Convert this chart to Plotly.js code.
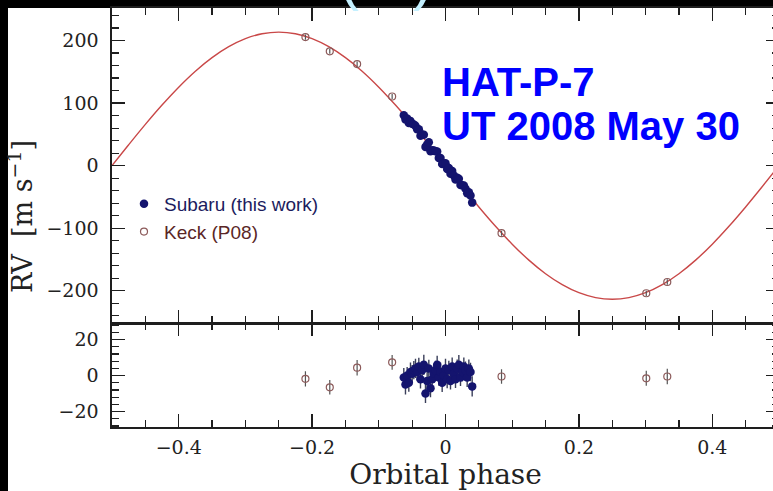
<!DOCTYPE html>
<html><head><meta charset="utf-8">
<script src="https://cdn.plot.ly/plotly-3.0.1.min.js"></script>
<style>
html,body{margin:0;padding:0;background:#000;overflow:hidden;width:773px;height:491px}
#plot{width:781px;height:491px}
</style>
</head><body><div id="plot"></div>
<script>
// Model RV curve
const modelPhase = [-0.5,-0.475,-0.45,-0.425,-0.4,-0.375,-0.35,-0.325,-0.3,-0.275,-0.25,-0.225,-0.2,-0.175,-0.15,-0.125,-0.1,-0.075,-0.05,-0.025,0,0.025,0.05,0.075,0.1,0.125,0.15,0.175,0.2,0.225,0.25,0.275,0.3,0.325,0.35,0.375,0.4,0.425,0.45,0.475,0.5];
const modelRV = [0,33.4,66.0,96.9,125.5,151.0,172.7,190.2,203.1,210.9,213.5,210.9,203.1,190.2,172.7,151.0,125.5,96.9,66.0,33.4,0,-33.4,-66.0,-96.9,-125.5,-151.0,-172.7,-190.2,-203.1,-210.9,-213.5,-210.9,-203.1,-190.2,-172.7,-151.0,-125.5,-96.9,-66.0,-33.4,0];

// Keck (P08)
const keckPhase = [-0.210,-0.1735,-0.1325,-0.080,0.084,0.301,0.3325];
const keckRV = [205.6,182.8,162.3,110.5,-108.0,-204.0,-186.0];
const keckResid = [-1.8,-6.5,4.4,7.4,-0.5,-1.5,-0.5];
const keckErr = [4.2,4.0,4.3,4.1,4.0,4.2,4.3];

// Subaru (this work)
const subaruPhase = [-0.0625,-0.0600,-0.0575,-0.0550,-0.0525,-0.0500,-0.0475,-0.0450,-0.0425,-0.0400,-0.0375,-0.0350,-0.0325,-0.0300,-0.0275,-0.0250,-0.0225,-0.0200,-0.0175,-0.0150,-0.0125,-0.0100,-0.0075,-0.0050,-0.0025,0.0000,0.0025,0.0050,0.0075,0.0100,0.0125,0.0150,0.0175,0.0200,0.0225,0.0250,0.0275,0.0300,0.0325,0.0350,0.0375,0.0400];
const subaruRV = [80.7,73.6,75.5,68.3,71.2,67.0,65.8,63.6,58.3,58.1,47.8,49.6,49.3,30.0,33.7,37.4,23.1,24.8,24.4,23.1,22.8,12.4,12.1,2.7,3.4,4.0,-5.4,-3.7,-13.1,-8.4,-15.8,-22.1,-19.4,-20.8,-31.1,-31.4,-31.7,-37.0,-44.3,-42.6,-47.8,-59.1];
const subaruResid = [-1,-5,0,-4,2,1,3,4,2,5,-2,3,6,-10,-3,4,-7,-2,1,3,6,-1,2,-4,0,4,-2,3,-3,5,1,-2,4,6,-1,2,5,3,-1,4,2,-6];
const subaruErr = [5.2,5.5,4.8,5.0,5.3,4.9,5.1,5.4,4.7,5.0,5.2,4.9,5.6,5.3,5.0,4.8,5.1,5.5,4.9,5.2,5.0,4.7,5.3,5.1,4.9,5.4,5.0,5.2,4.8,5.1,5.3,4.9,5.0,5.5,4.8,5.2,5.1,4.9,5.3,5.0,5.2,5.6];

const xTitle = 'Orbital phase';
const yTitle = 'RV  [m s<sup>\u22121</sup>]';
const labelSubaru = 'Subaru (this work)';
const labelKeck = 'Keck (P08)';
const starLine1 = 'HAT-P-7';
const starLine2 = 'UT 2008 May 30';

// pixel -> paper helpers (W=781, l=112, r=2, t=8, b=64, H=491)
const L = 112, PW = 667, T = 8, PH = 419;
const px = v => (v - L) / PW;
const py = v => (T + PH - v) / PH;

const navy = '#14146e', brown = '#8c5a5a', red = '#c94848', ink = '#1e1e1e';
const tickFont = {family: 'DejaVu Serif', size: 19, color: '#222'};

const traces = [
  {x: modelPhase, y: modelRV, xaxis: 'x2', yaxis: 'y', mode: 'lines',
   line: {color: red, width: 1.4, shape: 'spline'}, showlegend: false, hoverinfo: 'skip'},
  {x: subaruPhase, y: subaruRV, xaxis: 'x2', yaxis: 'y', mode: 'markers',
   name: '<span style="color:#1c1c5e">' + labelSubaru + '</span>',
   marker: {size: 8.5, color: navy},
   error_y: {type: 'data', array: subaruErr, width: 0, thickness: 1.4, color: '#3a3f5a'}},
  {x: keckPhase, y: keckRV, xaxis: 'x2', yaxis: 'y', mode: 'markers',
   name: '<span style="color:#5a2626">' + labelKeck + '</span>',
   marker: {size: 7, symbol: 'circle-open', color: brown, line: {width: 1.2, color: brown}},
   error_y: {type: 'data', array: keckErr, width: 0, thickness: 1.2, color: '#555'}},
  {x: subaruPhase, y: subaruResid, xaxis: 'x', yaxis: 'y2', mode: 'markers', showlegend: false,
   marker: {size: 8.5, color: navy},
   error_y: {type: 'data', array: subaruErr, width: 0, thickness: 1.4, color: '#3a3f5a'}},
  {x: keckPhase, y: keckResid, xaxis: 'x', yaxis: 'y2', mode: 'markers', showlegend: false,
   marker: {size: 7, symbol: 'circle-open', color: brown, line: {width: 1.2, color: brown}},
   error_y: {type: 'data', array: keckErr, width: 0, thickness: 1.2, color: '#555'}}
];

const axCommon = {
  ticks: 'inside', ticklen: 13, tickwidth: 1.3, tickcolor: ink,
  showline: true, linecolor: ink, linewidth: 1.6, mirror: 'allticks',
  showgrid: false, zeroline: false, tickfont: tickFont, automargin: false
};

const layout = {
  width: 781, height: 491,
  margin: {l: L, r: 2, t: T, b: 64},
  paper_bgcolor: '#000', plot_bgcolor: '#fff',
  showlegend: true,
  legend: {x: px(124), y: py(185), xanchor: 'left', yanchor: 'top', bgcolor: 'rgba(0,0,0,0)',
           font: {family: 'Liberation Sans', size: 19}, itemwidth: 30, tracegroupgap: 0},
  xaxis: Object.assign({}, axCommon, {
    domain: [0, 1], anchor: 'y2', range: [-0.5, 0.5], tick0: 0, dtick: 0.2,
    minor: {dtick: 0.05, ticks: 'inside', ticklen: 7, tickwidth: 1.2, tickcolor: ink},
    ticklabelstandoff: 3,
    title: {text: xTitle, font: {family: 'DejaVu Serif', size: 28, color: '#222'}, standoff: 6}
  }),
  xaxis2: Object.assign({}, axCommon, {
    domain: [0, 1], anchor: 'y', matches: 'x', range: [-0.5, 0.5], tick0: 0, dtick: 0.2,
    minor: {dtick: 0.05, ticks: 'inside', ticklen: 7, tickwidth: 1.2, tickcolor: ink},
    showticklabels: false
  }),
  yaxis: Object.assign({}, axCommon, {
    domain: [0.2475, 1], anchor: 'x2', range: [-252, 252], tick0: 0, dtick: 100,
    minor: {dtick: 20, ticks: 'inside', ticklen: 7, tickwidth: 1.2, tickcolor: ink},
    ticklabelstandoff: 8
  }),
  yaxis2: Object.assign({}, axCommon, {
    domain: [0, 0.2475], anchor: 'x', range: [-28.6, 29.1], tick0: 0, dtick: 20,
    minor: {dtick: 4, ticks: 'inside', ticklen: 7, tickwidth: 1.2, tickcolor: ink},
    ticklabelstandoff: 8
  }),
  shapes: [
    {type: 'rect', xref: 'paper', yref: 'paper', layer: 'below',
     x0: px(8), x1: px(790), y0: py(500), y1: py(8),
     fillcolor: '#fff', line: {width: 0}}
  ],
  annotations: [
    {xref: 'paper', yref: 'paper', x: px(20), y: py(217), text: yTitle, textangle: -90,
     showarrow: false, xanchor: 'center', yanchor: 'middle',
     font: {family: 'DejaVu Serif', size: 27, color: '#222'}},
    {xref: 'paper', yref: 'paper', x: px(440), y: py(82), text: '<b>' + starLine1 + '</b>',
     showarrow: false, xanchor: 'left', yanchor: 'middle',
     font: {family: 'Liberation Sans', size: 40, color: '#0000ff'}},
    {xref: 'paper', yref: 'paper', x: px(440), y: py(126), text: '<b>' + starLine2 + '</b>',
     showarrow: false, xanchor: 'left', yanchor: 'middle',
     font: {family: 'Liberation Sans', size: 40, color: '#0000ff'}},
    {xref: 'paper', yref: 'paper', x: px(349), y: py(14), text: '(',
     showarrow: false, xanchor: 'center', yanchor: 'bottom',
     font: {family: 'Liberation Sans', size: 60, color: '#c4f0ff'}},
    {xref: 'paper', yref: 'paper', x: px(423), y: py(14), text: ')',
     showarrow: false, xanchor: 'center', yanchor: 'bottom',
     font: {family: 'Liberation Sans', size: 60, color: '#c4f0ff'}}
  ]
};

Plotly.newPlot('plot', traces, layout, {displayModeBar: false, staticPlot: true});
</script>
</body></html>
